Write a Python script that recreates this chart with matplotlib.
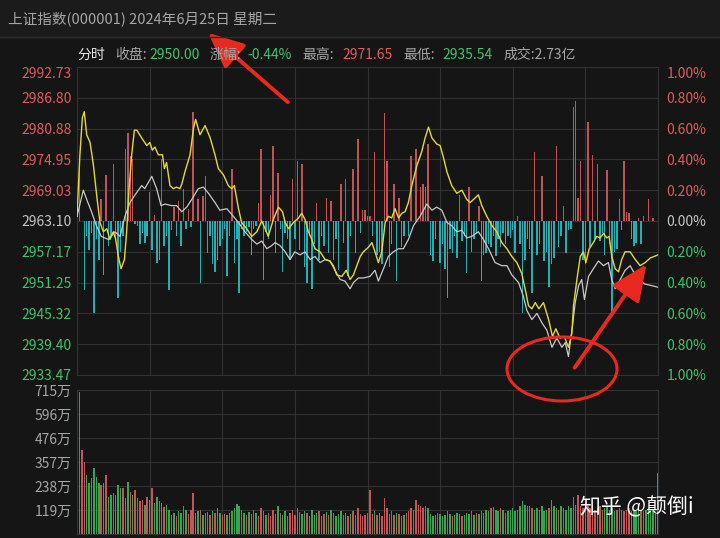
import numpy as np
import matplotlib.pyplot as plt
from matplotlib.patches import Ellipse, FancyArrowPatch, Rectangle

plt.rcParams['font.family'] = ['Noto Sans CJK SC', 'DejaVu Sans']

# ---- data ----
prev_close = 2963.10
price_ticks = [2992.73, 2986.80, 2980.88, 2974.95, 2969.03, 2963.10,
               2957.17, 2951.25, 2945.32, 2939.40, 2933.47]
pct_ticks = [1.0, 0.8, 0.6, 0.4, 0.2, 0.0, -0.2, -0.4, -0.6, -0.8, -1.0]
vol_ticks = [119, 238, 357, 476, 596, 715]

# white line: index, % change vs previous close (minute, pct)
index_t = [0, 2.6, 4, 6, 8, 10, 13, 15.7, 17.8, 19.8, 21.9, 24, 26.7, 28, 30.9,
           32.9, 34.7, 36.4, 39, 41.1, 43.3, 45.3, 47.4, 50.1, 52.2, 54.3, 57,
           59, 61.9, 64.6, 66.7, 69.4, 72.2, 74.3, 76.3, 78.4, 80.4, 81.8, 83.9,
           86, 88, 90, 92.1, 94.2, 96.3, 98.3, 100.4, 102.5, 104.5, 106.6, 108.7,
           110.7, 112.8, 114.2, 116.2, 118.3, 121, 123.1, 124.5, 126.6, 128.6,
           130.7, 132.8, 134.8, 136.9, 139, 141.7, 144.5, 146.6, 148.6, 150.7,
           152.8, 154.8, 156.9, 159, 161, 163.1, 165.8, 167.9, 170, 172.7, 175.5,
           177.6, 179.6, 182.4, 184.4, 185.8, 187.9, 190, 192, 194.1, 196.2,
           198.2, 200.3, 201.7, 203, 204.7, 205.8, 207.2, 208.5, 209.6, 211.3,
           213.3, 215.4, 217.5, 219.5, 220.9, 222.3, 224.4, 226.4, 228.5, 230.6,
           232.6, 234.7, 237.5, 240]
index_pct = [0.03, 0.20, 0.14, 0.06, -0.03, -0.10, -0.12, -0.07, -0.10, 0.03,
             0.12, 0.17, 0.23, 0.21, 0.29, 0.21, 0.10, 0.11, 0.10, 0.10, 0.06,
             0.09, 0.14, 0.21, 0.22, 0.18, 0.12, 0.07, 0.08, 0.03, -0.01, -0.07,
             -0.12, -0.15, -0.13, -0.18, -0.16, -0.14, -0.16, -0.20, -0.25, -0.20,
             -0.22, -0.20, -0.25, -0.23, -0.27, -0.25, -0.26, -0.32, -0.38, -0.39,
             -0.44, -0.40, -0.37, -0.37, -0.36, -0.32, -0.39, -0.31, -0.23, -0.20,
             -0.18, -0.18, -0.12, -0.03, 0.03, 0.11, 0.07, 0.09, 0.07, -0.01,
             -0.03, -0.07, -0.06, -0.11, -0.10, -0.07, -0.12, -0.18, -0.27, -0.29,
             -0.29, -0.35, -0.40, -0.49, -0.58, -0.64, -0.60, -0.66, -0.71, -0.82,
             -0.76, -0.82, -0.79, -0.88, -0.68, -0.53, -0.42, -0.38, -0.51, -0.36,
             -0.31, -0.26, -0.29, -0.27, -0.38, -0.44, -0.38, -0.32, -0.29, -0.35,
             -0.39, -0.41, -0.42, -0.43]

# yellow line (minute, pct)
avg_t = [0, 1.2, 2.2, 3, 4, 5.4, 6.8, 8.1, 9.5, 10.9, 12.3, 13.6, 15, 16, 17.1,
         18.2, 19.6, 20.5, 21.5, 22.6, 23.7, 24.7, 26.7, 28.8, 30.1, 31.1, 32.2,
         33.6, 35.3, 36.1, 37, 38.4, 39.8, 41.1, 42.5, 43.3, 44.6, 46.7, 48.1, 49,
         50.8, 52.9, 55, 57, 58.4, 60.5, 62.5, 63.9, 65, 66.7, 68, 70.1, 72.2,
         74.3, 76.3, 77.7, 79, 81.1, 83.2, 84.9, 86, 87.4, 89.4, 91.5, 92.8, 94.2,
         95.6, 97, 98.3, 100.4, 102.5, 104.5, 105.9, 107.3, 109.4, 111.2, 112.8,
         114.2, 115.6, 117, 118.3, 120.4, 121.8, 123.1, 124.5, 125.9, 127.3, 128.6,
         130, 131.4, 132.8, 134.2, 135.5, 136.9, 138.3, 140.4, 142.4, 143.8, 145.2,
         146.6, 148.6, 150, 151.4, 152.8, 154.8, 156.9, 159, 161, 162.4, 163.8,
         165.8, 167.2, 169.3, 171.4, 173.4, 175.5, 177.6, 179.6, 181.7, 183.7,
         185.1, 186.5, 187.9, 189.3, 190.8, 192.7, 194.8, 196.4, 197.8, 199.5,
         201.3, 203, 204.4, 205.1, 206.5, 207.9, 209.2, 210.2, 211.6, 213.3, 214.7,
         216.1, 217.5, 218.8, 219.8, 220.9, 222.3, 223.7, 225, 226.4, 228.5, 230.6,
         232.6, 234.7, 236.8, 240]
avg_pct = [0.03, 0.43, 0.67, 0.71, 0.56, 0.51, 0.36, 0.17, -0.01, -0.07, -0.05,
           -0.12, -0.07, -0.12, -0.23, -0.31, -0.25, -0.07, 0.21, 0.43, 0.59, 0.59,
           0.54, 0.49, 0.51, 0.46, 0.48, 0.43, 0.43, 0.34, 0.38, 0.23, 0.21, 0.22,
           0.21, 0.24, 0.32, 0.43, 0.60, 0.66, 0.56, 0.62, 0.54, 0.43, 0.34, 0.30,
           0.23, 0.21, 0.23, 0.08, -0.01, -0.05, -0.10, -0.07, 0.00, -0.05, -0.10,
           0.01, 0.09, 0.06, -0.01, -0.05, -0.01, 0.02, 0.05, 0.01, -0.07, -0.12,
           -0.18, -0.20, -0.25, -0.26, -0.29, -0.35, -0.36, -0.32, -0.38, -0.35,
           -0.29, -0.23, -0.20, -0.17, -0.14, -0.20, -0.27, -0.20, -0.01, 0.03,
           0.02, 0.08, 0.02, 0.05, 0.06, 0.12, 0.23, 0.36, 0.45, 0.54, 0.61, 0.54,
           0.50, 0.49, 0.41, 0.32, 0.23, 0.18, 0.20, 0.14, 0.12, 0.14, 0.17, 0.10,
           0.03, -0.03, -0.07, -0.14, -0.18, -0.23, -0.27, -0.34, -0.44, -0.55,
           -0.57, -0.53, -0.57, -0.53, -0.64, -0.75, -0.70, -0.76, -0.75, -0.82,
           -0.73, -0.55, -0.38, -0.23, -0.20, -0.27, -0.18, -0.14, -0.10, -0.11,
           -0.08, -0.11, -0.10, -0.23, -0.31, -0.33, -0.25, -0.20, -0.20, -0.25,
           -0.29, -0.27, -0.24, -0.22]

# red / cyan force bars (minute, pct)
force_t = [0, 1, 3, 4, 5, 6, 7, 8, 9, 10, 11, 12, 13, 14, 15, 16, 17, 18, 19,
           20, 21, 22, 23, 24, 25, 26, 27, 28, 29, 30, 31, 32, 33, 34, 35, 36,
           37, 38, 39, 40, 41, 42, 43, 44, 45, 46, 47, 48, 50, 51, 52, 53, 54,
           55, 56, 57, 58, 59, 60, 61, 62, 63, 64, 65, 66, 67, 68, 69, 70, 71,
           72, 73, 74, 75, 76, 77, 78, 79, 80, 81, 82, 83, 84, 85, 86, 87, 88,
           89, 90, 91, 92, 93, 94, 95, 96, 97, 98, 99, 100, 101, 102, 103, 104,
           105, 106, 107, 108, 109, 110, 111, 112, 113, 114, 115, 116, 117, 118,
           119, 120, 121, 122, 123, 124, 125, 126, 127, 128, 129, 130, 131, 132,
           133, 134, 135, 137, 138, 140, 142, 143, 144, 145, 146, 147, 148, 150,
           151, 152, 153, 154, 155, 156, 157, 158, 159, 160, 161, 162, 163, 164,
           165, 166, 167, 168, 169, 170, 171, 172, 173, 174, 175, 176, 177, 178,
           179, 180, 181, 182, 183, 184, 185, 186, 187, 188, 189, 190, 191, 192,
           193, 194, 195, 196, 197, 198, 199, 200, 201, 202, 203, 204, 205, 206,
           207, 208, 209, 210, 211, 212, 213, 214, 215, 216, 217, 218, 219, 220,
           221, 222, 223, 224, 225, 226, 227, 228, 229, 230, 231, 232, 233, 234,
           236, 238]
force_v = [0.05, 0.38, -0.45, -0.10, -0.19, -0.08, -0.60, -0.12, -0.25, 0.14,
           -0.35, 0.30, -0.16, -0.10, 0.37, -0.12, -0.50, -0.20, -0.10, 0.47, 0.57,
           0.42, 0.40, -0.02, -0.03, -0.15, -0.08, -0.14, -0.10, 0.19, -0.19, 0.04,
           -0.27, -0.25, 0.40, -0.16, -0.10, -0.45, -0.06, 0.09, -0.10, 0.13, -0.16,
           0.21, -0.05, 0.08, -0.04, 0.71, 0.14, -0.40, 0.16, 0.29, -0.21, -0.10,
           -0.28, -0.33, -0.25, -0.16, -0.12, -0.05, -0.36, -0.10, 0.34, -0.27,
           -0.12, -0.47, -0.05, -0.10, -0.07, -0.04, -0.22, -0.05, -0.03, 0.12,
           0.47, -0.38, -0.07, -0.12, 0.17, 0.49, -0.21, 0.31, -0.05, -0.33, -0.08,
           -0.12, -0.25, 0.27, -0.12, 0.39, -0.19, 0.37, -0.30, -0.40, -0.10, -0.44,
           -0.15, 0.12, -0.25, -0.10, -0.16, 0.15, -0.21, 0.13, -0.25, -0.12, -0.32,
           0.24, -0.14, 0.27, -0.36, -0.10, 0.34, -0.21, 0.53, -0.08, 0.07, 0.07,
           0.03, 0.03, -0.10, 0.45, -0.22, -0.20, -0.28, 0.70, 0.39, -0.30, -0.15,
           0.24, -0.39, 0.15, -0.17, -0.10, -0.10, 0.42, 0.47, 0.22, 0.24, 0.22,
           0.50, -0.22, -0.26, -0.12, -0.27, -0.15, -0.31, -0.50, -0.18, -0.21,
           -0.10, -0.24, 0.17, -0.13, -0.10, -0.34, 0.22, -0.20, -0.12, -0.08, 0.10,
           -0.39, -0.22, -0.21, -0.15, -0.17, -0.10, -0.23, -0.12, -0.17, -0.08,
           -0.15, -0.10, -0.11, -0.06, -0.21, 0.03, -0.15, -0.60, -0.25, -0.12,
           -0.18, -0.47, 0.45, -0.22, -0.15, 0.29, -0.26, -0.20, -0.43, -0.28, -0.24,
           0.49, -0.17, -0.10, 0.10, -0.21, -0.06, -0.05, 0.74, 0.78, 0.15, 0.39,
           -0.25, -0.28, 0.64, -0.17, 0.43, -0.12, 0.37, -0.13, -0.08, -0.22, 0.33,
           -0.15, -0.59, -0.20, -0.18, 0.14, -0.06, 0.39, 0.06, 0.05, -0.12, -0.16,
           -0.14, 0.02, -0.15, 0.03, 0.14, 0.02]

# volume per minute, 万手
volume = [188, 707, 417, 357, 293, 253, 278, 326, 285, 253,
          245, 253, 293, 186, 194, 203, 194, 245, 228, 228,
          179, 256, 211, 194, 218, 179, 162, 170, 145, 186,
          170, 226, 153, 186, 162, 153, 135, 145, 120, 95,
          104, 89, 116, 104, 137, 120, 100, 120, 203, 104,
          112, 120, 95, 104, 108, 93, 116, 104, 128, 104,
          95, 99, 95, 104, 112, 128, 148, 140, 120, 104,
          95, 110, 99, 120, 104, 89, 128, 112, 95, 104,
          89, 120, 99, 137, 104, 95, 112, 89, 104, 120,
          95, 128, 108, 99, 116, 104, 89, 120, 95, 104,
          112, 89, 99, 108, 95, 120, 104, 89, 99, 112,
          95, 104, 89, 99, 112, 95, 128, 99, 89, 95,
          104, 218, 99, 112, 95, 104, 89, 178, 128, 99,
          112, 95, 104, 99, 89, 95, 104, 112, 128, 120,
          170, 145, 137, 128, 140, 128, 99, 89, 95, 104,
          99, 89, 95, 112, 99, 89, 95, 104, 99, 89,
          95, 103, 99, 112, 95, 104, 99, 112, 104, 120,
          112, 128, 136, 120, 112, 128, 120, 104, 112, 120,
          128, 112, 120, 137, 166, 145, 137, 140, 128, 120,
          128, 120, 137, 112, 120, 128, 170, 137, 128, 120,
          137, 128, 120, 140, 128, 186, 145, 194, 137, 128,
          120, 140, 128, 137, 120, 128, 137, 120, 128, 137,
          120, 128, 112, 120, 128, 120, 112, 120, 128, 112,
          120, 112, 128, 120, 112, 120, 128, 112, 120, 104,
          305]
vol_up = ("grrrgggggg" "rgrggrgggr" "ggrgrrrrgr" "grggggrggg" "grggrgrrrg"
          "grgggrgrgg" "rrggggg"
          "gggrggrgrr" "rgrrrrgrgg" "grrrgrggrg" "gggrgrgrgg" "gggrgrgrrr"
          "rrrrrrgrgr" "rrgrrgrrgr" "rrrrrrrrgg" "ggrgggggrg" "ggrgggrgrg"
          "ggggrgggrg" "gggggrgggg" "grggrgggrg" "ggrgrgggrr" "rrrrrrrrgr"
          "rgggggrgrr" "rrggggrggg" "gggg")

# ---- colours ----
bg = '#151515'
grid_c = '#323232'
red_txt = '#dc5c5e'
green_txt = '#3cc46c'
gray_txt = '#a6a6a6'

fig = plt.figure(figsize=(7.2, 5.38), dpi=100, facecolor=bg)
W, H = 720, 538


def px_axes(x0, y0, x1, y1):
    return fig.add_axes([x0 / W, 1 - y1 / H, (x1 - x0) / W, (y1 - y0) / H])


# main price panel
ax = px_axes(77, 67, 658, 375)
ax.set_facecolor(bg)
ax.set_xlim(0, 240)
ax.set_ylim(-1, 1)
fcol = ['#c25355' if v > 0 else '#27aeb3' for v in force_v]
ax.bar(force_t, force_v, width=0.6, color=fcol, zorder=2)
ax.plot(index_t, index_pct, color='#c9c9c9', lw=0.9, zorder=3)
ax.plot(avg_t, avg_pct, color='#e3d936', lw=1.0, zorder=4)

ax.set_xticks(np.arange(0, 241, 30))
ax.set_yticks(pct_ticks)
ax.grid(True, color=grid_c, lw=0.8, zorder=0)
ax.tick_params(length=0, labelbottom=False)
for s in ax.spines.values():
    s.set_color(grid_c)

tick_cols = [red_txt if p > 0 else (green_txt if p < 0 else '#c4c4c4')
             for p in pct_ticks]
ax.set_yticklabels(['%.2f' % p for p in price_ticks], fontsize=10)
ax.tick_params(axis='y', pad=4)
ax2 = ax.twinx()
ax2.set_ylim(-1, 1)
ax2.set_yticks(pct_ticks)
ax2.set_yticklabels(['%.2f%%' % abs(p) for p in pct_ticks], fontsize=10)
ax2.tick_params(length=0, pad=6)
for s in ax2.spines.values():
    s.set_visible(False)
for labs in (ax.get_yticklabels(), ax2.get_yticklabels()):
    for lab, c in zip(labs, tick_cols):
        lab.set_color(c)
    labs[0].set_verticalalignment('top')

# volume panel
axv = px_axes(77, 390, 658, 534)
axv.set_facecolor(bg)
axv.set_xlim(0, 240)
axv.set_ylim(0, 715)
minutes = np.arange(len(volume))
vcol = ['#c45556' if c == 'r' else '#36a451' for c in vol_up]
axv.bar(minutes, volume, width=0.6, color=vcol, zorder=2)
axv.set_xticks(np.arange(0, 241, 30))
axv.set_yticks(vol_ticks)
axv.set_yticklabels(['%d万' % v for v in vol_ticks], fontsize=10, color=gray_txt)
axv.grid(True, color=grid_c, lw=0.8, zorder=0)
axv.tick_params(length=0, labelbottom=False, pad=4)
for s in axv.spines.values():
    s.set_color(grid_c)

# overlay in pixel coordinates for header text and annotations
ov = fig.add_axes([0, 0, 1, 1], zorder=10)
ov.set_xlim(0, W)
ov.set_ylim(H, 0)
ov.axis('off')
ov.patch.set_alpha(0)
ov.add_patch(Rectangle((0, 0), W, 37, color='#1b1b1b', zorder=0))
ov.plot([0, W], [37, 37], color='#2e2e2e', lw=1)

ov.text(8, 19, '上证指数(000001) 2024年6月25日 星期二', fontsize=10.5,
        color=gray_txt, va='center')
header = [(77, '分时', '#e6e6e6'), (115, '收盘:', gray_txt),
          (149, '2950.00', green_txt), (210, '涨幅:', gray_txt),
          (247, '-0.44%', green_txt), (302, '最高:', gray_txt),
          (342, '2971.65', red_txt), (403, '最低:', gray_txt),
          (442, '2935.54', green_txt), (503, '成交:2.73亿', gray_txt)]
for x, s, c in header:
    ov.text(x, 55, s, fontsize=10, color=c, va='center')

arrow_red = '#e8291f'
for tail, head in [((290, 104), (206, 31)), ((573, 370), (648, 262))]:
    ov.add_patch(FancyArrowPatch(tail, head,
                                 arrowstyle='-|>,head_length=10,head_width=4.5',
                                 mutation_scale=2.2, color=arrow_red, lw=2.8))
ov.add_patch(Ellipse((562, 369), 110, 64, fill=False, ec=arrow_red, lw=2.2))

ov.text(580, 507, '知乎 @颠倒i', fontsize=15, color='white', va='center')

fig.savefig('out.png', dpi=100, facecolor=bg)
